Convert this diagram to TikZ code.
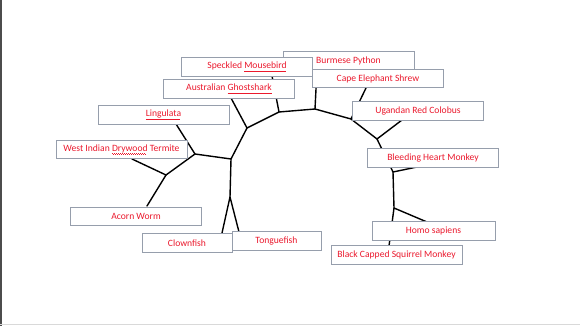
\documentclass[tikz,border=0pt]{standalone}
\usepackage{fontspec}
\setmainfont{Carlito}
\definecolor{lbl}{RGB}{235,25,45}
\definecolor{boxc}{RGB}{150,158,172}
\newcommand\sqline[1]{\setbox0\hbox{#1}\rlap{\leaders\hbox to 2pt{\raisebox{-2.2pt}{\rule{1pt}{0.55pt}}\raisebox{-2.7pt}{\rule{1pt}{0.55pt}}}\hskip\wd0}\box0\relax}
\tikzset{
  sp/.style={draw=boxc, line width=0.7pt, fill=white, rectangle, inner sep=0pt,
    minimum height=18.5pt, text=lbl, font=\fontsize{9.6}{11}\selectfont},
  wide/.style={sp, minimum width=131pt},
  br/.style={line width=1.4pt, black, line cap=round, line join=round}
}
\begin{document}
\begin{tikzpicture}[x=1pt,y=-1pt]
\useasboundingbox (0,0) rectangle (580,326);
\fill[white] (0,0) rectangle (580,326);
\draw[line width=2pt, black!70] (1,0) -- (1,326);
\draw[line width=0.8pt, black!15] (0,324.5) -- (580,324.5);
% junctions
\coordinate (A) at (247,128);
\coordinate (B) at (231,159);
\coordinate (C) at (195,154);
\coordinate (D) at (166,175);
\coordinate (E) at (279,112);
\coordinate (F) at (315,109);
\coordinate (G) at (351,119);
\coordinate (H) at (377,139);
\coordinate (I) at (393,172);
\coordinate (J) at (394,208);
\coordinate (K) at (230,197);
% leaf ends
\coordinate (eghost) at (231,98);
\coordinate (emouse) at (272,76);
\coordinate (eburm) at (317,69);
\coordinate (ecape) at (366,88);
\coordinate (euga) at (402,120);
\coordinate (ebleed) at (417,167);
\coordinate (ehomo) at (427,222);
\coordinate (eblack) at (389,246);
\coordinate (eling) at (176,124);
\coordinate (eterm) at (132,159);
\coordinate (eacorn) at (147,206);
\coordinate (eclown) at (222,233);
\coordinate (etongue) at (239,232);
% branches
\draw[br] (eterm) -- (D) -- (eacorn);
\draw[br] (D) -- (C) -- (eling);
\draw[br] (C) -- (B) -- (A) -- (eghost);
\draw[br] (A) -- (E) -- (emouse);
\draw[br] (E) -- (F) -- (eburm);
\draw[br] (F) -- (G) -- (ecape);
\draw[br] (G) -- (H) -- (euga);
\draw[br] (H) -- (I) -- (ebleed);
\draw[br] (I) -- (J) -- (ehomo);
\draw[br] (J) -- (eblack);
\draw[br] (B) -- (K) -- (eclown);
\draw[br] (K) -- (etongue);
% boxes
\node[wide] (burm) at (348.5,60.5) {Burmese Python};
\node[wide] (mouse) at (247,67) {Speckled \sqline{Mousebird}};
\node[wide] (cape) at (378,78.5) {Cape Elephant Shrew};
\node[wide] (ghost) at (229,89) {Australian \sqline{Ghostshark}};
\node[wide] (uga) at (418,111) {Ugandan Red Colobus};
\node[wide] (ling) at (163.5,115) {\sqline{Lingulata}};
\node[wide] (term) at (121.5,149.5) {West Indian \sqline{Drywood} Termite};
\node[wide] (bleed) at (433,158) {Bleeding Heart Monkey};
\node[wide] (acorn) at (136,216.5) {Acorn Worm};
\node[sp, minimum width=90pt] (clown) at (187,243) {Clownfish};
\node[sp, minimum width=89pt] (tongue) at (276.5,241) {Tonguefish};
\node[sp, minimum width=123pt] (homo) at (433.5,231) {Homo sapiens};
\node[wide] (black) at (396.5,255) {Black Capped Squirrel Monkey};
\end{tikzpicture}
\end{document}
